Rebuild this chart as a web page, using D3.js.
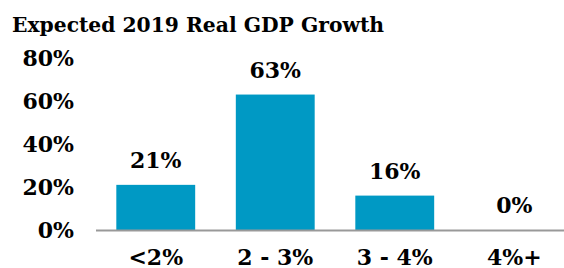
<!DOCTYPE html>
<html>
<head>
<meta charset="utf-8">
<script src="https://cdn.jsdelivr.net/npm/d3@7"></script>
<style>
  body { margin: 0; background: #fff; }
  svg text { font-family: "DejaVu Serif", "Liberation Serif", serif; font-weight: bold; fill: #000; }
</style>
</head>
<body>
<div></div>
<script>
const categories = ["<2%", "2 - 3%", "3 - 4%", "4%+"];
const values = [21, 63, 16, 0];
const yTicks = [0, 20, 40, 60, 80];

const w = 564;
const h = 268;

const svg = d3.select("div").append("svg").attr("width", w).attr("height", h);

svg
  .append("text")
  .attr("x", 12)
  .attr("y", 32)
  .style("font-size", "20.3px")
  .text("Expected 2019 Real GDP Growth");

const xScale = d3
  .scaleBand()
  .domain(categories)
  .range([96, 574])
  .paddingInner(0.34)
  .paddingOuter(0.17);

const yScale = d3.scaleLinear().domain([0, 80]).range([230, 58]);

// bars
svg
  .selectAll("rect.bar")
  .data(values)
  .enter()
  .append("rect")
  .attr("class", "bar")
  .attr("x", (d, i) => xScale(categories[i]))
  .attr("y", (d) => yScale(d))
  .attr("width", xScale.bandwidth())
  .attr("height", (d) => yScale(0) - yScale(d))
  .attr("fill", "#0099c4");

// value labels
svg
  .selectAll("text.val")
  .data(values)
  .enter()
  .append("text")
  .attr("class", "val")
  .attr("x", (d, i) => xScale(categories[i]) + xScale.bandwidth() / 2)
  .attr("y", (d) => yScale(d) - 17)
  .attr("text-anchor", "middle")
  .style("font-size", "22px")
  .text((d) => d + "%");

// y axis
const yAxis = d3
  .axisLeft(yScale)
  .tickValues(yTicks)
  .tickSize(0)
  .tickPadding(22)
  .tickFormat((d) => d + "%");
const gy = svg
  .append("g")
  .attr("transform", "translate(96,0)")
  .call(yAxis)
  .attr("font-family", null);
gy.select(".domain").remove();
gy.selectAll("text").style("font-size", "22px");

// x axis
const xAxis = d3.axisBottom(xScale).tickSize(0).tickPadding(19);
const gx = svg
  .append("g")
  .attr("transform", "translate(0,230)")
  .call(xAxis)
  .attr("font-family", null);
gx.select(".domain").remove();
gx.selectAll("text").style("font-size", "22px");

// baseline
svg
  .append("line")
  .attr("x1", 96)
  .attr("x2", w)
  .attr("y1", 230.5)
  .attr("y2", 230.5)
  .attr("stroke", "#999")
  .attr("stroke-width", 2);
</script>
</body>
</html>
